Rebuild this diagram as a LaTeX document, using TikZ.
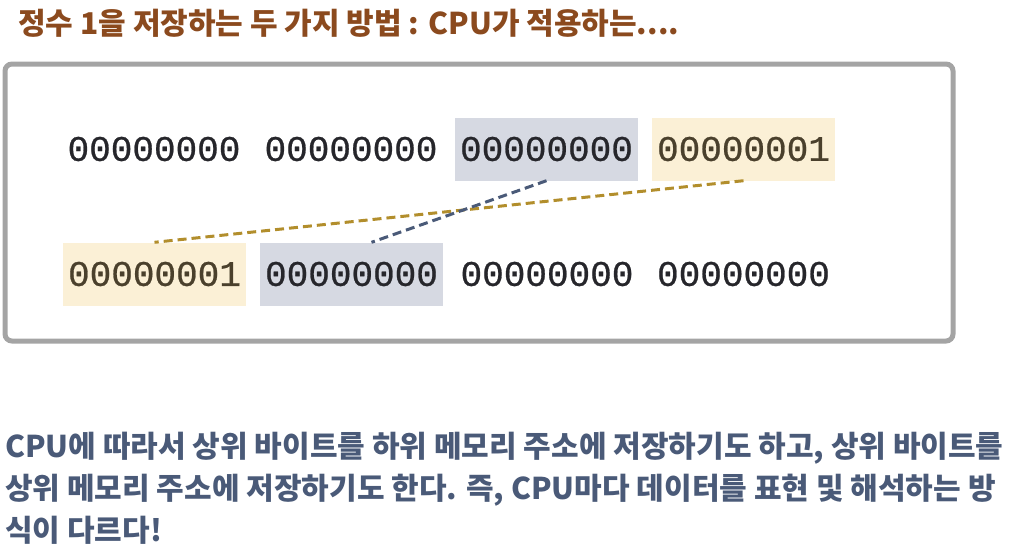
\documentclass[tikz,border=0pt]{standalone}
\usepackage{fontspec}
\setmainfont{Noto Sans CJK KR}
\newfontfamily\bitfont[FakeBold=0.7]{Liberation Mono}
\usepackage{tikz}
\usetikzlibrary{%
  calc,
  positioning
}

\definecolor{titlebrown}{HTML}{8B4A1E}
\definecolor{notegray}{HTML}{4A5A78}
\definecolor{framegray}{HTML}{A4A4A4}
\definecolor{hibgray}{HTML}{D6D9E2}
\definecolor{hibyellow}{HTML}{FBF0D6}
\definecolor{linkgold}{HTML}{B28E2C}
\definecolor{bitdark}{HTML}{26262B}
\definecolor{bitbrown}{HTML}{4A402C}

\tikzset{
  bitbox/.style={minimum width=183pt, minimum height=63pt, inner sep=0pt,
                 font=\bitfont\fontsize{36}{36}\selectfont, text=bitdark},
  bitlow/.style={bitbox, fill=hibgray},
  bithigh/.style={bitbox, fill=hibyellow, text=bitbrown},
  bitlink/.style={line width=3pt, dash pattern=on 9pt off 5pt}
}

\begin{document}
\begin{tikzpicture}[x=1pt, y=-1pt]
  \useasboundingbox (0,0) rectangle (1016,550) ;

  % title
  \node [anchor=west, text=titlebrown, inner sep=0pt,
         font=\bfseries\fontsize{30}{30}\selectfont] (title)
        at (18,23) {정수 1을 저장하는 두 가지 방법 : CPU가 적용하는....} ;

  % frame
  \draw [framegray, line width=5pt, rounded corners=7pt]
        (5,64) rectangle (953,341) ;

  % first row
  \node [bitbox]   (t1) at (154,149) {00000000} ;
  \node [bitbox]   (t2) at (351,149) {00000000} ;
  \node [bitlow]   (t3) at (546.5,149) {00000000} ;
  \node [bithigh]  (t4) at (743.5,149) {00000001} ;

  % second row
  \node [bithigh]  (b1) at (154.5,274) {00000001} ;
  \node [bitlow]   (b2) at (351.5,274) {00000000} ;
  \node [bitbox]   (b3) at (547,274) {00000000} ;
  \node [bitbox]   (b4) at (743.5,274) {00000000} ;

  % links
  \draw [bitlink, linkgold] (t4.south) -- (b1.north) ;
  \draw [bitlink, notegray] (t3.south) -- ([xshift=20pt]b2.north) ;

  % note
  \node [anchor=north west, align=left, text=notegray,
         font=\bfseries\fontsize{30}{42}\selectfont, inner sep=0pt] (note) at (5,432)
        {CPU에 따라서 상위 바이트를 하위 메모리 주소에 저장하기도 하고, 상위 바이트를\\
         상위 메모리 주소에 저장하기도 한다. 즉, CPU마다 데이터를 표현 및 해석하는 방\\
         식이 다르다!} ;
\end{tikzpicture}
\end{document}
